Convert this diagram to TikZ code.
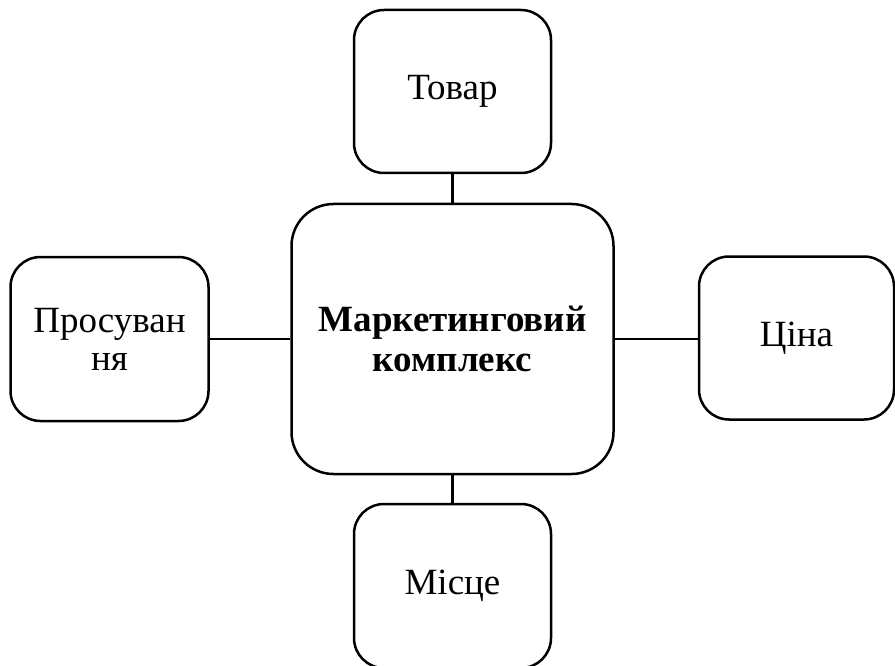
\documentclass[tikz,border=0pt]{standalone}
\usepackage{fontspec}
\setmainfont{Liberation Serif}
\begin{document}
\begin{tikzpicture}[x=1pt,y=-1pt,
  box/.style={draw,line width=2.5pt,rounded corners=30pt,inner sep=0pt,align=center,
    font=\fontsize{37}{38}\selectfont},
  link/.style={line width=2.5pt}]
\useasboundingbox (0,0) rectangle (895,666);
\node[box,minimum width=322pt,minimum height=270pt,rounded corners=42pt,
  font=\fontsize{37}{40}\selectfont\bfseries] (c) at (452.5,339) {Маркетинговий\\комплекс};
\node[box,minimum width=197pt,minimum height=163pt] (t) at (452.5,91.5) {Товар};
\node[box,minimum width=197pt,minimum height=164pt] (b) at (452.5,586) {Місце};
\node[box,minimum width=198pt,minimum height=164pt] (l) at (109.5,339) {Просуван\\ня};
\node[box,minimum width=195pt,minimum height=163pt] (r) at (796.5,338) {Ціна};
\draw[link] (t.south) -- (c.north);
\draw[link] (c.south) -- (b.north);
\draw[link] (l.east) -- (c.west);
\draw[link] (c.east) -- (c.east -| r.west);
\end{tikzpicture}
\end{document}
